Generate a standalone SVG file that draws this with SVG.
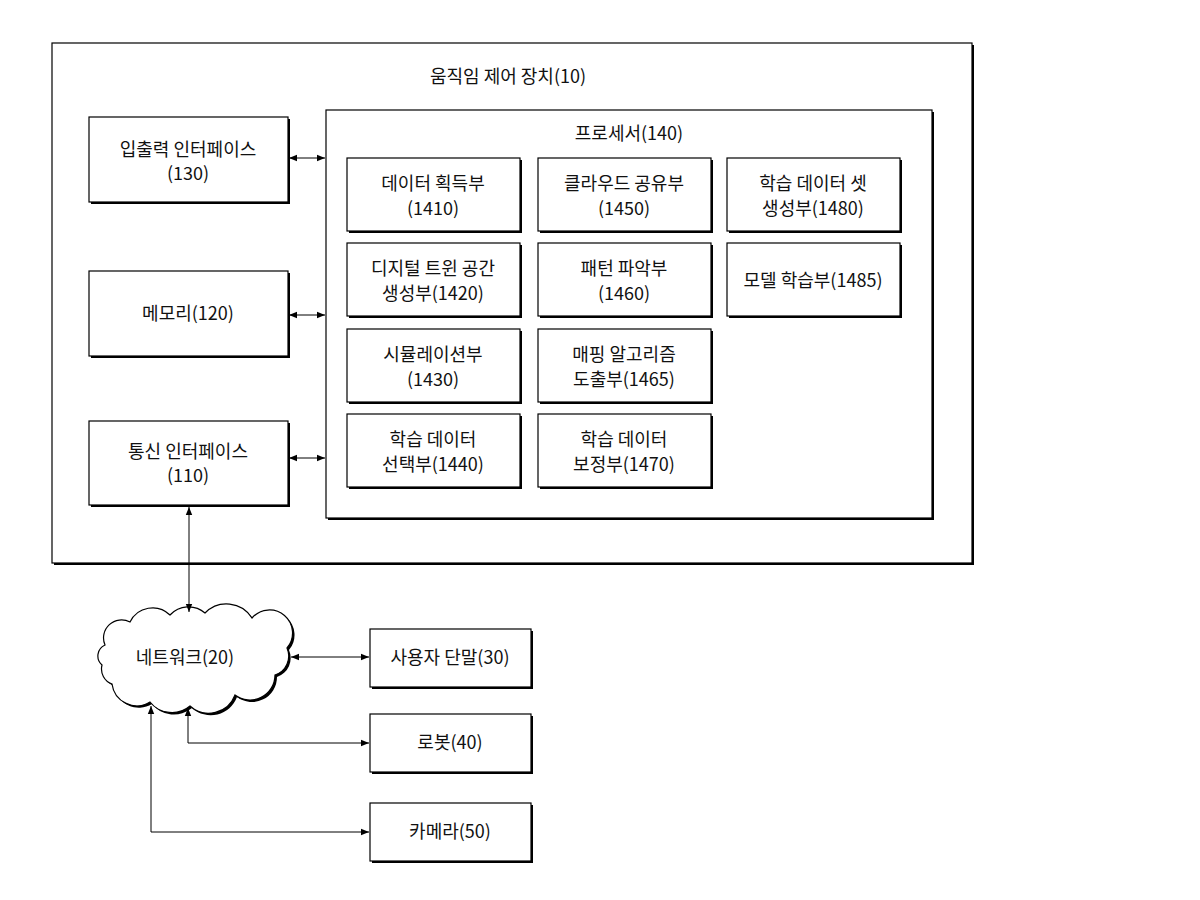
<svg xmlns="http://www.w3.org/2000/svg" width="1200" height="900" viewBox="0 0 1200 900">
<defs>
<style>
.b{fill:#fff;stroke:#000;stroke-width:1.2}
.s{fill:#000}
text{font-family:"Noto Sans CJK KR","Noto Sans",sans-serif;font-size:18px;fill:#111;text-anchor:middle}
.c{fill:none;stroke:#000;stroke-width:1}
</style>
<marker id="a" viewBox="0 0 10 10" refX="10" refY="5" markerWidth="8" markerHeight="8" orient="auto-start-reverse"><path d="M0,1L10,5L0,9z" fill="#000"/></marker>
</defs>
<rect width="1200" height="900" fill="#fff"/>
<g id="device"><rect x="54" y="45" width="920" height="520" class="s"/><rect x="52" y="43" width="920" height="520" class="b"/><text x="508" y="83">움직임 제어 장치(10)</text></g>
<g id="processor"><rect x="328" y="112" width="606" height="408" class="s"/><rect x="326" y="110" width="606" height="408" class="b"/><text x="629" y="140">프로세서(140)</text></g>
<g id="io"><rect x="91" y="119" width="199" height="85" class="s"/><rect x="89" y="117" width="199" height="85" class="b"/><text x="188" y="156">입출력 인터페이스</text><text x="188" y="180">(130)</text></g>
<g id="mem"><rect x="91" y="273" width="199" height="85" class="s"/><rect x="89" y="271" width="199" height="85" class="b"/><text x="188" y="320">메모리(120)</text></g>
<g id="comm"><rect x="91" y="423" width="199" height="84" class="s"/><rect x="89" y="421" width="199" height="84" class="b"/><text x="188" y="458">통신 인터페이스</text><text x="188" y="482">(110)</text></g>
<g id="n1410"><rect x="349" y="160" width="173" height="73" class="s"/><rect x="347" y="158" width="173" height="73" class="b"/><text x="433" y="190">데이터 획득부</text><text x="433" y="215">(1410)</text></g>
<g id="n1450"><rect x="540" y="160" width="173" height="73" class="s"/><rect x="538" y="158" width="173" height="73" class="b"/><text x="624" y="190">클라우드 공유부</text><text x="624" y="215">(1450)</text></g>
<g id="n1480"><rect x="729" y="160" width="173" height="73" class="s"/><rect x="727" y="158" width="173" height="73" class="b"/><text x="813" y="190">학습 데이터 셋</text><text x="813" y="215">생성부(1480)</text></g>
<g id="n1420"><rect x="349" y="245" width="173" height="73" class="s"/><rect x="347" y="243" width="173" height="73" class="b"/><text x="433" y="275">디지털 트윈 공간</text><text x="433" y="300">생성부(1420)</text></g>
<g id="n1460"><rect x="540" y="245" width="173" height="73" class="s"/><rect x="538" y="243" width="173" height="73" class="b"/><text x="624" y="275">패턴 파악부</text><text x="624" y="300">(1460)</text></g>
<g id="n1485"><rect x="729" y="245" width="173" height="73" class="s"/><rect x="727" y="243" width="173" height="73" class="b"/><text x="813" y="287">모델 학습부(1485)</text></g>
<g id="n1430"><rect x="349" y="331" width="173" height="73" class="s"/><rect x="347" y="329" width="173" height="73" class="b"/><text x="433" y="361">시뮬레이션부</text><text x="433" y="386">(1430)</text></g>
<g id="n1465"><rect x="540" y="331" width="173" height="73" class="s"/><rect x="538" y="329" width="173" height="73" class="b"/><text x="624" y="361">매핑 알고리즘</text><text x="624" y="386">도출부(1465)</text></g>
<g id="n1440"><rect x="349" y="416" width="173" height="73" class="s"/><rect x="347" y="414" width="173" height="73" class="b"/><text x="433" y="446">학습 데이터</text><text x="433" y="471">선택부(1440)</text></g>
<g id="n1470"><rect x="540" y="416" width="173" height="73" class="s"/><rect x="538" y="414" width="173" height="73" class="b"/><text x="624" y="446">학습 데이터</text><text x="624" y="471">보정부(1470)</text></g>
<g id="network">
<path transform="translate(2,2)" fill="#000" d="M105,645 A18,18 0 0 1 130,622 A25,25 0 0 1 170,615 A25,25 0 0 1 205,613 A30,30 0 0 1 252,618 A22,22 0 0 1 287,648 A20,20 0 0 1 275,675 A25,25 0 0 1 235,695 A28,28 0 0 1 190,706 A28,28 0 0 1 150,702 A25,25 0 0 1 112,684 A16,16 0 0 1 102,665 A12,12 0 0 1 105,645 Z"/>
<path class="b" d="M105,645 A18,18 0 0 1 130,622 A25,25 0 0 1 170,615 A25,25 0 0 1 205,613 A30,30 0 0 1 252,618 A22,22 0 0 1 287,648 A20,20 0 0 1 275,675 A25,25 0 0 1 235,695 A28,28 0 0 1 190,706 A28,28 0 0 1 150,702 A25,25 0 0 1 112,684 A16,16 0 0 1 102,665 A12,12 0 0 1 105,645 Z"/>
<text x="185" y="664">네트워크(20)</text></g>
<g id="user"><rect x="372" y="631" width="161" height="58" class="s"/><rect x="370" y="629" width="161" height="58" class="b"/><text x="450" y="664">사용자 단말(30)</text></g>
<g id="robot"><rect x="372" y="716" width="161" height="58" class="s"/><rect x="370" y="714" width="161" height="58" class="b"/><text x="450" y="749">로봇(40)</text></g>
<g id="camera"><rect x="372" y="805" width="161" height="58" class="s"/><rect x="370" y="803" width="161" height="58" class="b"/><text x="450" y="838">카메라(50)</text></g>
<g id="connectors">
<line class="c" x1="289" y1="158" x2="325" y2="158" marker-start="url(#a)" marker-end="url(#a)"/>
<line class="c" x1="289" y1="315" x2="325" y2="315" marker-start="url(#a)" marker-end="url(#a)"/>
<line class="c" x1="289" y1="458" x2="325" y2="458" marker-start="url(#a)" marker-end="url(#a)"/>
<line class="c" x1="189" y1="507" x2="189" y2="612" marker-start="url(#a)" marker-end="url(#a)"/>
<line class="c" x1="291" y1="657" x2="369" y2="657" marker-start="url(#a)" marker-end="url(#a)"/>
<path class="c" d="M188,708 V743 H369" marker-start="url(#a)" marker-end="url(#a)"/>
<path class="c" d="M151,706 V832 H369" marker-start="url(#a)" marker-end="url(#a)"/>
</g>
</svg>
